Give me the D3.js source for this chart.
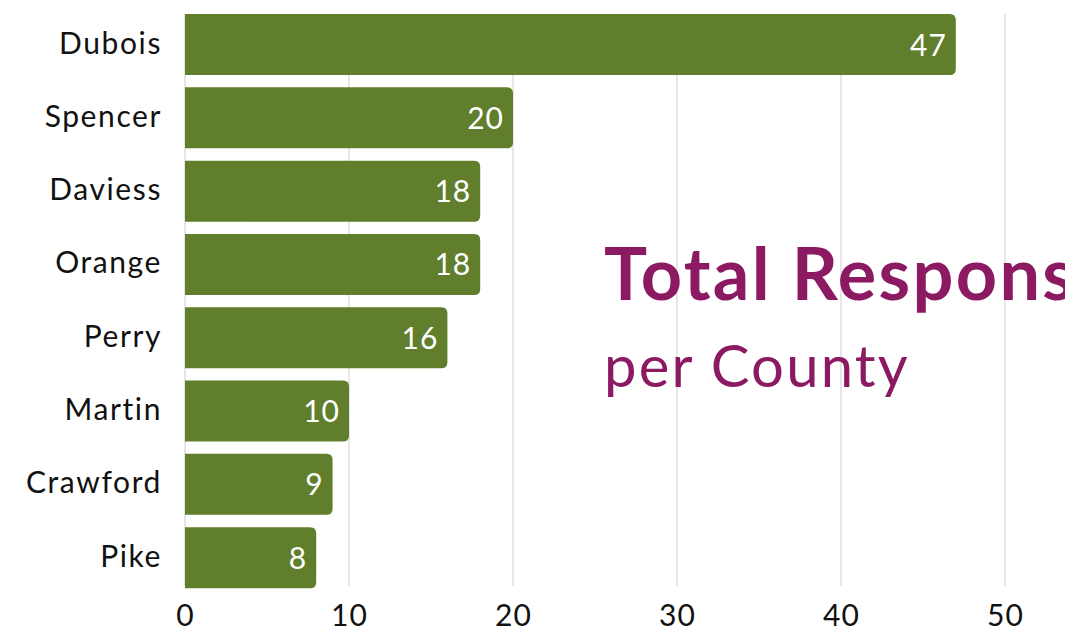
<!DOCTYPE html>
<html><head><meta charset="utf-8">
<script src="https://cdn.jsdelivr.net/npm/d3@7"></script>
<style>body{margin:0;background:#fff;overflow:hidden}svg{display:block}</style>
</head><body><svg id="c" width="1065" height="634"></svg>
<script>
const counties = ["Dubois","Spencer","Daviess","Orange","Perry","Martin","Crawford","Pike"];
const responses = [47,20,18,18,16,10,9,8];
const xTicks = [0,10,20,30,40,50];
const titleMain = "Total Responses";
const titleSub = "per County";

const svg = d3.select("#c");
const x = d3.scaleLinear().domain([0,50]).range([185,1005]);
const y = d3.scaleBand().domain(counties).range([7.9,594.3]).paddingInner(0.168).paddingOuter(0.084);
const font = "Lato, 'Open Sans', sans-serif";

svg.append("g").selectAll("line").data(xTicks).join("line")
  .attr("x1",d=>x(d)).attr("x2",d=>x(d)).attr("y1",14).attr("y2",586)
  .attr("stroke","#d9d9d9").attr("stroke-width",1.3);

const r = 6;
svg.append("g").selectAll("path").data(counties).join("path")
  .attr("fill","#607e2c")
  .attr("d",(c,i)=>{
    const x0=x(0), x1=x(responses[i]), y0=y(c), h=y.bandwidth();
    return `M${x0},${y0}H${x1-r}Q${x1},${y0} ${x1},${y0+r}V${y0+h-r}Q${x1},${y0+h} ${x1-r},${y0+h}H${x0}Z`;
  });

svg.append("g").selectAll("text").data(counties).join("text")
  .attr("x",(c,i)=>x(responses[i])-9).attr("y",c=>y(c)+y.bandwidth()/2+11)
  .attr("text-anchor","end").attr("fill","#fff").attr("font-family",font).attr("font-size",30)
  .attr("letter-spacing",1)
  .text((c,i)=>responses[i]);

svg.append("g").selectAll("text").data(counties).join("text")
  .attr("x",162).attr("y",c=>y(c)+y.bandwidth()/2+9)
  .attr("text-anchor","end").attr("fill","#111").attr("font-family",font).attr("font-size",30)
  .attr("letter-spacing",1.6)
  .text(c=>c);

const ax = d3.axisBottom(x).tickValues(xTicks).tickSize(0).tickPadding(0);
const g = svg.append("g").attr("transform","translate(0,626)").call(ax);
g.select(".domain").remove();
g.selectAll("text").attr("dy",0).attr("font-family",font).attr("font-size",30).attr("fill","#111")
  .attr("letter-spacing",1);

svg.append("text").attr("x",604).attr("y",300).attr("fill","#8b1a62")
  .attr("font-family",font).attr("font-weight","bold").attr("font-size",72)
  .attr("letter-spacing",2.3).text(titleMain);
svg.append("text").attr("x",604).attr("y",387).attr("fill","#8b1a62")
  .attr("font-family",font).attr("font-size",58)
  .attr("letter-spacing",2.2).text(titleSub);
</script></body></html>
